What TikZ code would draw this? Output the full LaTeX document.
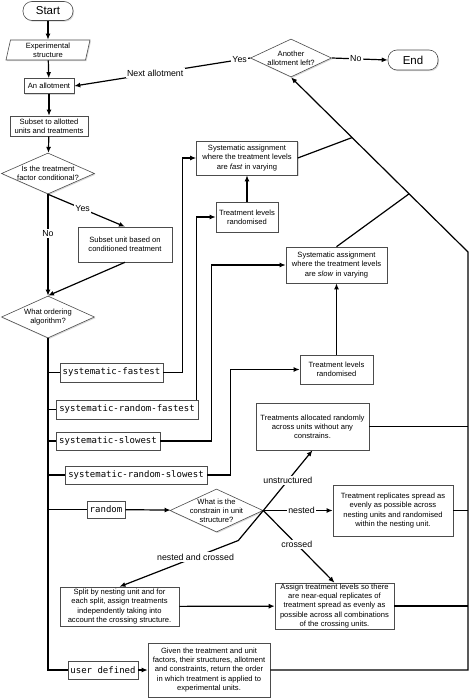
\documentclass[tikz,border=0pt]{standalone}
\usepackage{fontspec}
\setmainfont{Liberation Sans}
\setmonofont{DejaVu Sans Mono}
\usetikzlibrary{shapes.geometric,arrows.meta,shadows,calc}
\begin{document}
\begin{tikzpicture}[x=1pt, y=-1pt,
  box/.style={draw=black!70, line width=0.6pt, fill=white, align=center, inner sep=1pt, font=\fontsize{7.6}{9.1}\selectfont, drop shadow={shadow xshift=1pt, shadow yshift=-1.2pt, opacity=0.3}},
  dia/.style={box, diamond, aspect=2.2, inner sep=-4pt},
  term/.style={box, rounded corners=9pt, font=\fontsize{11.5}{13}\selectfont},
  code/.style={box, font=\ttfamily\fontsize{9}{10}\selectfont},
  lbl/.style={fill=white, inner sep=1.5pt, font=\fontsize{8.8}{10}\selectfont},
  ln/.style={line width=1.2pt},
  arr/.style={ln, -{Latex[length=6pt, width=5pt]}}]
\useasboundingbox (0,0) rectangle (470,700);
\node (start) at (48,11) [term, minimum width=50pt, minimum height=19pt] {Start};
\node (exp) at (48,50) [box, trapezium, trapezium left angle=73, trapezium right angle=107, trapezium stretches body, minimum width=84pt, minimum height=20pt, inner sep=0pt] {Experimental\\structure};
\node (allot) at (49,86) [box, minimum width=50pt, minimum height=15pt] {An allotment};
\node (subset) at (49,126) [box, minimum width=78pt, minimum height=20pt] {Subset to allotted\\units and treatments};
\node (cond) at (48,173.5) [dia, minimum width=93pt, minimum height=41pt] {Is the treatment\\factor conditional?};
\node (another) at (291,58) [dia, minimum width=81pt, minimum height=38pt] {Another\\allotment left?};
\node (end) at (413,60) [term, minimum width=50pt, minimum height=20pt] {End};
\node (sysfast) at (247,158) [box, minimum width=101pt, minimum height=34pt] {Systematic assignment\\where the treatment levels\\are \textit{fast} in varying};
\node (randfast) at (247,217) [box, minimum width=62pt, minimum height=30pt] {Treatment levels\\randomised};
\node (subcond) at (125,244.5) [box, minimum width=94pt, minimum height=35pt] {Subset unit based on\\conditioned treatment};
\node (order) at (48,317) [dia, minimum width=93pt, minimum height=42pt] {What ordering\\algorithm?};
\node (sysslow) at (336.5,265) [box, minimum width=101pt, minimum height=36pt] {Systematic assignment\\where the treatment levels\\are \textit{slow} in varying};
\node (sf) at (111.5,372.5) [code, minimum width=103pt, minimum height=19pt] {systematic-fastest};
\node (srf) at (127,409.5) [code, minimum width=142pt, minimum height=19pt] {systematic-random-fastest};
\node (ss) at (108,441) [code, minimum width=104pt, minimum height=18pt] {systematic-slowest};
\node (srs) at (136,475) [code, minimum width=142pt, minimum height=18pt] {systematic-random-slowest};
\node (randslow) at (336.5,369.5) [box, minimum width=73pt, minimum height=29pt] {Treatment levels\\randomised};
\node (unstr) at (312.5,426.5) [box, minimum width=113pt, minimum height=47pt] {Treatments allocated randomly\\across units without any\\constrains.};
\node (rnd) at (106,509.5) [code, minimum width=38pt, minimum height=17pt] {random};
\node (constr) at (216.5,510.5) [dia, minimum width=93pt, minimum height=43pt] {What is the\\constrain in unit\\structure?};
\node (nested) at (393,510.5) [box, minimum width=120pt, minimum height=51pt] {Treatment replicates spread as\\evenly as possible across\\nesting units and randomised\\within the nesting unit.};
\node (split) at (119.5,606.5) [box, minimum width=119pt, minimum height=39pt] {Split by nesting unit and for\\each split, assign treatments\\independently taking into\\account the crossing structure.};
\node (assign) at (334.5,606) [box, minimum width=119pt, minimum height=46pt] {Assign treatment levels so there\\are near-equal replicates of\\treatment spread as evenly as\\possible across all combinations\\of the crossing units.};
\node (ud) at (103,670) [code, minimum width=70pt, minimum height=18pt] {user defined};
\node (given) at (209,670) [box, minimum width=122pt, minimum height=54pt] {Given the treatment and unit\\factors, their structures, allotment\\and constraints, return the order\\in which treatment is applied to\\experimental units.};
\coordinate (corner) at (468,252);
\draw [arr] (start) -- (exp);
\draw [arr] (exp) -- (allot);
\draw [arr] (allot) -- (subset);
\draw [arr] (subset) -- (cond);
\draw [arr] (cond.south) -- node [lbl, pos=0.45] {Yes} (subcond.north);
\draw [arr] (cond.south) -- node [lbl, pos=0.39] {No} (order.north);
\draw [arr] (subcond.south) -- (order.north);
\draw [arr] (another.west) -- node [lbl, pos=0.06] {Yes} node [lbl, pos=0.54] {Next allotment} (allot.east);
\draw [arr] (another.east) -- node [lbl, pos=0.43] {No} (end.west);
\draw [ln] (order.south) |- (ud.west);
\foreach \n in {sf,srf,ss,srs,rnd} \draw [ln] (order.south |- \n.west) -- (\n.west);
\draw [arr] (sf.east) -- ++(19,0) |- (sysfast.west);
\draw [arr] ([xshift=-2pt]srf.north east) |- (randfast.west);
\draw [arr] (ss.east) -- ++(51,0) |- (sysslow.west);
\draw [arr] (srs.east) -- ++(23,0) |- (randslow.west);
\draw [arr] (randfast) -- (sysfast);
\draw [arr] (randslow) -- (sysslow);
\draw [arr] (rnd) -- (constr);
\draw [arr] (constr.east) -- node [lbl, pos=0.55] {nested} (nested.west);
\draw [arr] (constr.east) -- node [lbl] {unstructured} (unstr.south);
\draw [arr] (constr.east) -- node [lbl, pos=0.47] {crossed} (assign.north);
\draw [arr] (constr.east) -- ++(-25,30) -- node [lbl, pos=0.36] {nested and crossed} (split.north);
\draw [arr] (split) -- (assign);
\draw [arr] (ud) -- (given);
\draw [arr] (given.east) -- (given.east -| corner) -- (corner) -- (another.south);
\draw [ln] (unstr.east) -- (unstr.east -| corner);
\draw [ln] (nested.east) -- (nested.east -| corner);
\draw [ln] (assign.east) -- (assign.east -| corner);
\draw [ln] (sysfast.east) -- ($(corner)!0.655!(another.south)$);
\draw [ln] (sysslow.north) -- ($(corner)!0.333!(another.south)$);
\end{tikzpicture}
\end{document}
